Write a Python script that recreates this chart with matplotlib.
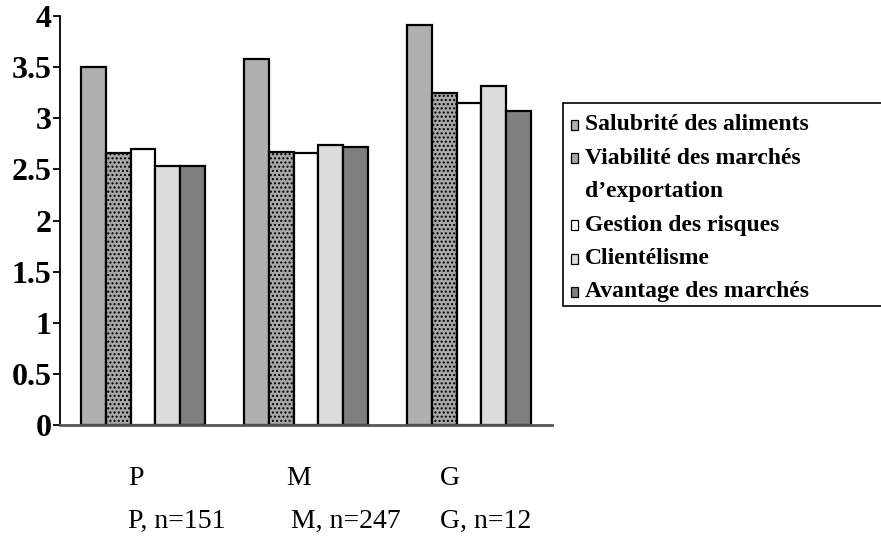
import matplotlib
matplotlib.use("Agg")
import matplotlib.pyplot as plt
from matplotlib.patches import Rectangle
import numpy as np

groups = ["P", "M", "G"]
group_labels = ["P, n=151", "M, n=247", "G, n=12"]
series = ["Salubrité des aliments",
          "Viabilité des marchés\nd\u2019exportation",
          "Gestion des risques",
          "Clientélisme",
          "Avantage des marchés"]
salubrite = [3.50, 3.58, 3.91]
viabilite = [2.66, 2.67, 3.25]
gestion = [2.70, 2.66, 3.15]
clientelisme = [2.53, 2.74, 3.32]
avantage = [2.53, 2.72, 3.07]
values = [salubrite, viabilite, gestion, clientelisme, avantage]
yticks = [0, 0.5, 1, 1.5, 2, 2.5, 3, 3.5, 4]
ytick_labels = ["0", "0.5", "1", "1.5", "2", "2.5", "3", "3.5", "4"]

colors = ["#b0b0b0", "#a8a8a8", "#ffffff", "#dcdcdc", "#7f7f7f"]
hatches = [None, "....", None, None, None]

serif = ["Liberation Serif", "DejaVu Serif"]
plt.rcParams['hatch.color'] = '#4a4a4a'
plt.rcParams['hatch.linewidth'] = 1.0

fig = plt.figure(figsize=(8.81, 5.40), dpi=100)
ax = fig.add_axes([60/881, 1-425/540, (552-60)/881, (425-16)/540])

x = np.arange(len(groups))
w = 0.152
for i, vals in enumerate(values):
    off = (i - 2) * w
    ax.bar(x + off, vals, width=w, color=colors[i], edgecolor="black",
           linewidth=1.6, zorder=2, hatch=hatches[i])

ax.set_xlim(-0.51, 2.51)
ax.set_ylim(0, 4)
ax.set_yticks(yticks)
ax.set_yticklabels(ytick_labels, fontfamily=serif, fontweight="bold", fontsize=23)
ax.set_xticks([])
for s in ["top", "right"]:
    ax.spines[s].set_visible(False)
ax.spines["left"].set_linewidth(1.3)
ax.spines["bottom"].set_linewidth(2.0)
ax.spines["bottom"].set_color("#555555")
ax.tick_params(axis="y", length=5, width=1.3, pad=1)

# category labels
label_off1 = [-0.09, -0.12, -0.18]
label_off2 = [-0.09, -0.09, -0.18]
trans = ax.get_xaxis_transform()
for i, (g, gl) in enumerate(zip(groups, group_labels)):
    ax.text(i + label_off1[i], -0.13, g, transform=trans, ha="left", va="center",
            fontfamily=serif, fontsize=20)
    ax.text(i + label_off2[i], -0.235, gl, transform=trans, ha="left", va="center",
            fontfamily=serif, fontsize=20)

# legend (manual)
box = Rectangle((563/881, 1-306/540), 400/881, (306-103)/540, transform=fig.transFigure,
                facecolor="white", edgecolor="black", linewidth=1.2, clip_on=False)
fig.add_artist(box)
line = 0
for i, name in enumerate(series):
    yc = 125 + 33.4 * line
    fig.add_artist(Rectangle((571/881, 1-(yc+5)/540), 7/881, 10/540,
                             transform=fig.transFigure, facecolor=colors[i],
                             edgecolor="black", linewidth=0.9))
    for j, part in enumerate(name.split("\n")):
        fig.text(585/881, 1-(yc + 33.4*j)/540, part, ha="left", va="center",
                 fontfamily=serif, fontweight="bold", fontsize=17)
    line += len(name.split("\n"))

fig.savefig("out.png", dpi=100)
